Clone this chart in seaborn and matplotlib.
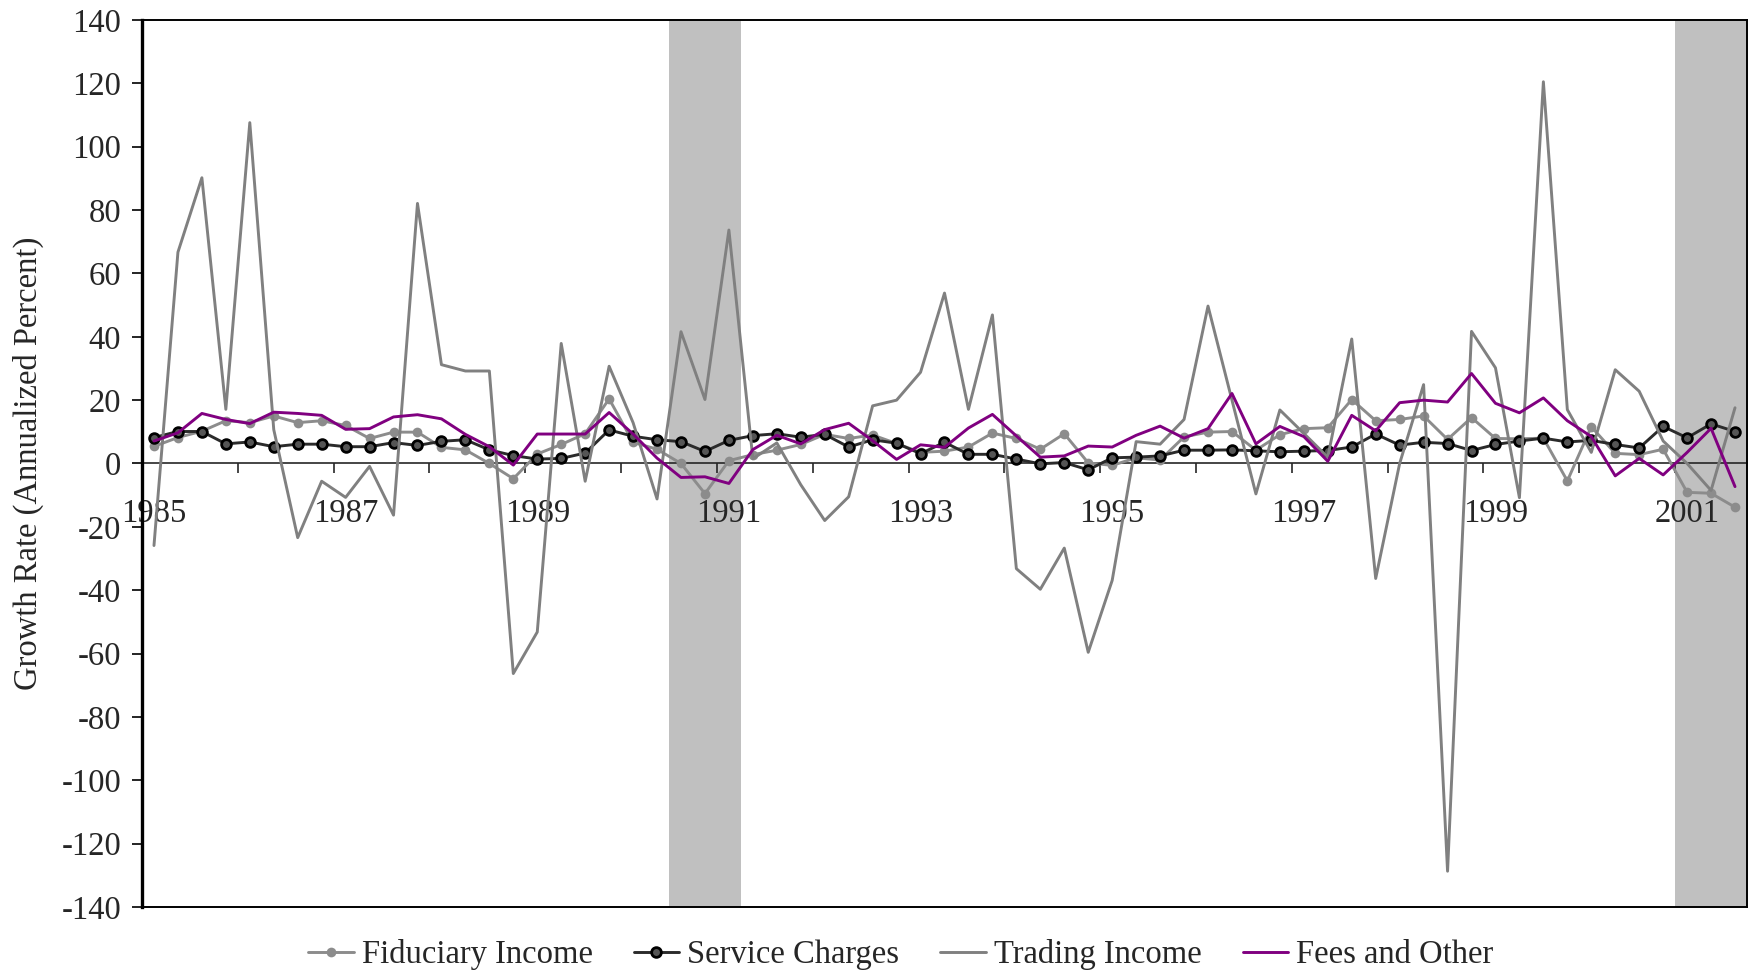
import numpy as np
import pandas as pd
import seaborn as sns
import matplotlib
matplotlib.use("Agg")
import matplotlib.pyplot as plt
from matplotlib.ticker import NullFormatter


# DATI (crescita trimestrale annualizzata, 1985Q1 - 2001Q3)
quarters = [str(p) for p in pd.period_range("1985Q1", "2001Q3", freq="Q")]

fiduciary = [5.4, 8.2, 10.2, 13.5, 12.9, 15.0, 12.9, 13.5, 12.0, 7.9, 9.9, 9.9, 5.1, 4.3, 0.0, -4.8,
             3.0, 6.0, 9.4, 20.4, 6.7, 4.5, 0.0, -9.5, 0.9, 2.8, 4.2, 6.0, 9.2, 7.9, 9.0, 6.3,
             3.5, 3.9, 5.2, 9.6, 7.9, 4.5, 9.4, 0.2, -0.6, 1.8, 1.1, 8.4, 9.9, 10.1, 4.2, 9.1,
             11.0, 11.3, 20.2, 13.5, 13.9, 15.0, 7.6, 14.5, 7.9, 7.8, 8.0, -5.5, 11.6, 3.2, 2.8, 4.5,
             -9.1, -9.4, -13.8]

service = [8.2, 10.1, 10.1, 6.2, 6.8, 5.3, 6.1, 6.1, 5.3, 5.3, 6.6, 5.7, 7.0, 7.5, 4.3, 2.5,
           1.4, 1.6, 3.3, 10.6, 8.6, 7.5, 6.9, 3.8, 7.3, 8.8, 9.4, 8.3, 9.2, 5.2, 7.5, 6.4,
           3.1, 6.7, 2.9, 2.9, 1.4, -0.1, 0.3, -2.0, 1.8, 2.0, 2.4, 4.2, 4.2, 4.3, 4.0, 3.7,
           3.9, 4.1, 5.2, 9.3, 5.8, 6.7, 6.3, 4.1, 6.0, 7.1, 8.0, 6.8, 7.3, 6.0, 4.9, 11.7,
           8.1, 12.5, 10.1]

trading = [-25.9, 66.7, 90.2, 17.1, 107.6, 10.7, -23.4, -5.6, -10.7, -0.9, -16.3, 82.1, 31.2, 29.2, 29.2, -66.3,
           -53.2, 37.9, -5.6, 30.7, 12.9, -11.2, 41.6, 20.2, 73.7, 1.5, 6.5, -6.7, -18.0, -10.5, 18.2, 20.0,
           28.8, 53.8, 17.1, 46.9, -33.2, -39.7, -26.7, -59.6, -36.9, 6.9, 6.1, 13.9, 49.7, 20.0, -9.6, 16.9,
           9.5, 2.0, 39.3, -36.3, 0.0, 24.9, -128.7, 41.7, 30.2, -10.8, 120.5, 17.0, 3.5, 29.6, 22.8, 7.1,
           0.0, -8.5, 17.6]

fees = [7.1, 9.7, 15.8, 13.9, 12.6, 16.2, 15.8, 15.2, 10.8, 11.0, 14.7, 15.4, 14.1, 9.2, 5.3, -0.5,
        9.3, 9.3, 9.3, 16.1, 9.3, 1.7, -4.4, -4.2, -6.3, 4.4, 8.9, 6.2, 10.7, 12.7, 7.2, 1.3,
        5.9, 5.1, 11.2, 15.5, 8.7, 2.0, 2.4, 5.5, 5.2, 8.9, 11.8, 8.0, 11.0, 22.1, 6.2, 11.7,
        8.5, 0.7, 15.2, 10.3, 19.2, 20.0, 19.4, 28.4, 19.0, 16.0, 20.7, 13.5, 8.5, -3.9, 1.6, -3.6,
        3.5, 11.1, -7.3]

recessions = [("1990Q3", "1991Q1"), ("2001Q1", "2001Q3")]
year_labels = ["1985", "1987", "1989", "1991", "1993", "1995", "1997", "1999", "2001"]
yticks = list(range(-140, 141, 20))

df = pd.DataFrame({
    "pos": np.arange(len(quarters)),
    "Fiduciary Income": fiduciary,
    "Service Charges": service,
    "Trading Income": trading,
    "Fees and Other": fees,
})


# STILE
sns.set_style("white")
plt.rcParams["font.family"] = ["Liberation Serif", "DejaVu Serif"]
FS = 23.5
LW = 2.1

fig = plt.figure(figsize=(17.56, 9.72), dpi=100)
ax = fig.add_axes([142 / 1756, 1 - 907 / 972, (1747 - 142) / 1756, (907 - 20) / 972])

# recessioni
for start, end in recessions:
    ax.axvspan(quarters.index(start) - 0.5, quarters.index(end) + 0.5,
               color="#c0c0c0", lw=0, zorder=0)

sns.lineplot(data=df, x="pos", y="Fiduciary Income", ax=ax, color="#8c8c8c", lw=LW,
             marker="o", markersize=7, markeredgewidth=0, label="Fiduciary Income")
sns.lineplot(data=df, x="pos", y="Service Charges", ax=ax, color="#2b2b2b", lw=LW,
             marker="o", markersize=7, markerfacecolor="#555555",
             markeredgecolor="black", markeredgewidth=2.0, label="Service Charges")
sns.lineplot(data=df, x="pos", y="Trading Income", ax=ax, color="#808080", lw=LW,
             label="Trading Income")
sns.lineplot(data=df, x="pos", y="Fees and Other", ax=ax, color="#800080", lw=LW,
             label="Fees and Other")

ax.set_xlim(-0.5, len(quarters) - 0.5)
ax.set_ylim(-140, 140)

# asse y
ax.set_yticks(yticks)
ax.set_yticklabels([str(v) for v in yticks], fontsize=FS)
ax.tick_params(axis="y", which="major", left=True, length=7, width=1.2,
               direction="out", pad=8, color="black")
ax.set_ylabel("Growth Rate (Annualized Percent)", fontsize=FS, va="center")
ax.yaxis.set_label_coords(-0.071, 0.5)

# bordo area grafico
ax.set_xticks([])
ax.set_xlabel("")
for side in ["top", "right", "bottom"]:
    ax.spines[side].set_linewidth(1.4)
    ax.spines[side].set_color("black")
ax.spines["left"].set_linewidth(2.4)
ax.spines["left"].set_color("black")

# asse x sullo zero
zero = ax.secondary_xaxis(0.5)
zero.set_alignment("bottom")
zero.spines["bottom"].set_linewidth(1.2)
zero.set_xticks(np.arange(-0.5, len(quarters), 4))
zero.xaxis.set_major_formatter(NullFormatter())
label_pos = [quarters.index(y + "Q1") for y in year_labels]
zero.set_xticks(label_pos, labels=year_labels, minor=True)
zero.tick_params(which="major", length=7, width=1.2, direction="out",
                 bottom=True, top=False)
zero.tick_params(which="minor", length=0, pad=25, labelsize=FS,
                 labelbottom=True, labeltop=False)

ax.grid(False)
ax.get_legend().remove()
handles, labels = ax.get_legend_handles_labels()
fig.legend(handles, labels, loc="center", bbox_to_anchor=(0.513, 0.018), ncol=4,
           frameon=False, fontsize=FS, handlelength=1.4, handletextpad=0.25,
           columnspacing=1.25)

plt.savefig("out.png", dpi=100)
plt.close()
